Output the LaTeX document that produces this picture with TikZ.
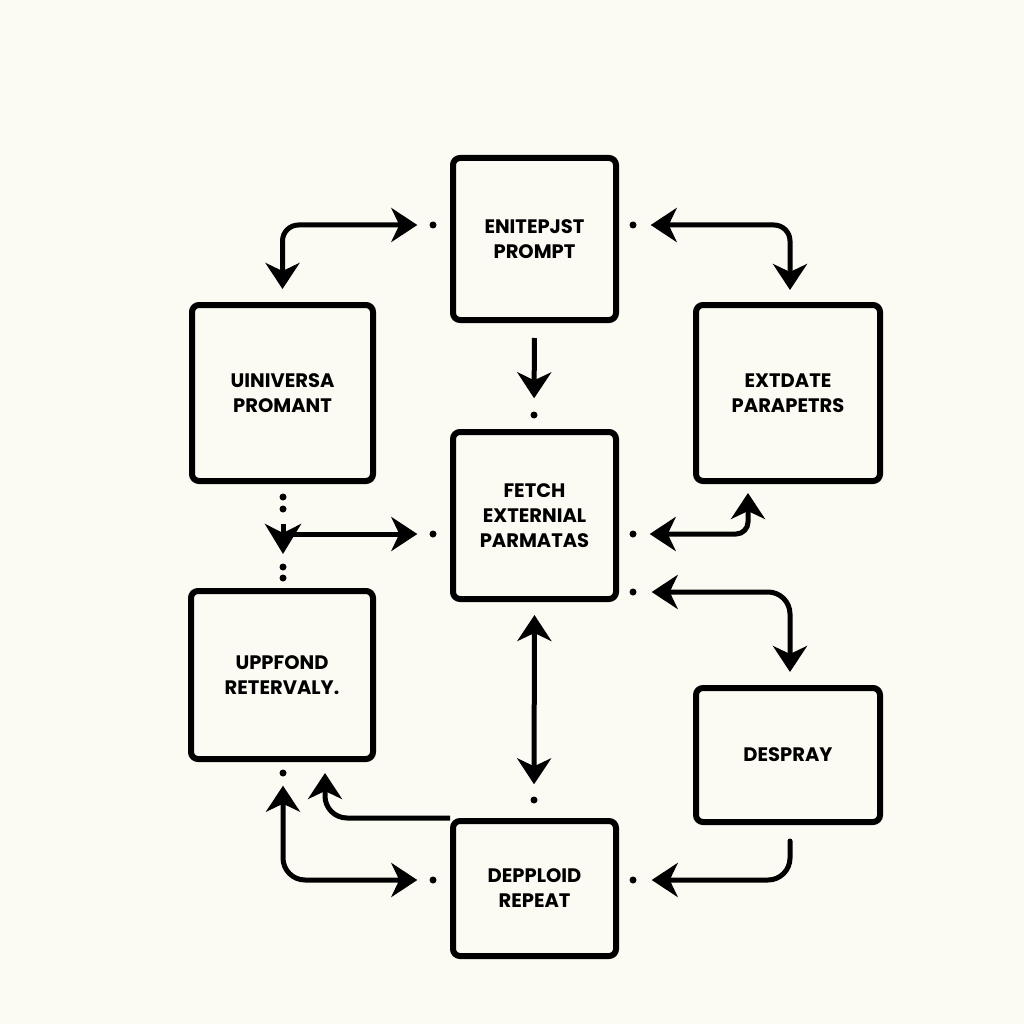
\documentclass[tikz,border=0pt]{standalone}
\usepackage{fontspec}
\setmainfont{Poppins}
\usetikzlibrary{arrows.meta}
\definecolor{bg}{HTML}{FBFAF3}
\tikzset{
  box/.style={draw=black, line width=6pt, rounded corners=7pt, inner sep=0pt,
    align=center, font=\fontsize{19.5}{25}\selectfont\bfseries},
  conn/.style={draw=black, line width=5pt, rounded corners=16pt},
  tipa/.tip={Stealth[length=26pt, width=34pt, inset=8pt]},
  dotn/.style={circle, fill=black, inner sep=0pt, minimum size=7pt},
}
\begin{document}
\begin{tikzpicture}[x=1pt, y=-1pt]
\fill[bg] (0,0) rectangle (1024,1024);
\useasboundingbox (0,0) rectangle (1024,1024);

% boxes
\node[box, minimum width=163pt, minimum height=162pt] (T) at (534.5,239) {ENITEPJST\\PROMPT};
\node[box, minimum width=181pt, minimum height=176pt] (UL) at (282.5,393) {UINIVERSA\\PROMANT};
\node[box, minimum width=184pt, minimum height=176pt] (UR) at (788,393) {EXTDATE\\PARAPETRS};
\node[box, minimum width=163pt, minimum height=167pt] (C) at (534.5,515.5) {FETCH\\EXTERNIAL\\PARMATAS};
\node[box, minimum width=182pt, minimum height=168pt] (LL) at (282,675) {UPPFOND\\RETERVALY.};
\node[box, minimum width=184pt, minimum height=134pt] (LR) at (788,755) {DESPRAY};
\node[box, minimum width=163pt, minimum height=135pt] (B) at (534.5,888.5) {DEPPLOID\\REPEAT};

% dots
\node[dotn] (d1) at (433,225) {};
\node[dotn] (d2) at (633,225) {};
\node[dotn] (d3) at (534,415) {};
\node[dotn] (d4) at (433,534) {};
\node[dotn] (d5) at (633,534) {};
\node[dotn] (d6) at (633,592) {};
\node[dotn] (d7) at (534,800) {};
\node[dotn] (d8a) at (283,773) {};
\node[dotn] (d8) at (433,880) {};
\node[dotn] (d10) at (633,880) {};
\node[dotn] (e1) at (283,497) {};
\node[dotn] (e2) at (283,509) {};
\node[dotn] (e3) at (283,567) {};
\node[dotn] (e4) at (283,578) {};

\coordinate (u5) at (748,481);
\coordinate (u9) at (325,759);
\coordinate (m4) at (283,534);

% connectors
\draw[conn, {tipa}-{tipa}, shorten <=13pt, shorten >=12pt] (UL.north) |- (d1);
\draw[conn, {tipa}-{tipa}, shorten <=14pt, shorten >=12pt] (d2) -| ([xshift=2pt]UR.north);
\draw[conn, -{tipa}, shorten <=15pt, shorten >=13pt] (T.south) -- (d3);
\draw[conn, -{tipa}, shorten >=12pt] (m4) -- (d4);
\draw[black, line width=5pt, -{Stealth[length=30pt, width=36pt, inset=9pt]}] (283,524) -- (283,554);
\draw[conn, {tipa}-{tipa}, shorten <=13pt, shorten >=12pt, rounded corners=12pt] (d5) -| (u5);
\draw[conn, {tipa}-{tipa}, shorten <=15pt, shorten >=13pt, rounded corners=22pt] (d6) -| ([xshift=2pt]LR.north);
\draw[conn, {tipa}-{tipa}, shorten <=13pt, shorten >=12pt] (C.south) -- (d7);
\draw[conn, {tipa}-{tipa}, shorten <=9pt, shorten >=12pt, rounded corners=22pt] (d8a) |- (d8);
\draw[conn, -{tipa}, shorten >=14pt, rounded corners=22pt] (B.north west) -| (u9);
\draw[conn, -{tipa}, line cap=round, shorten <=16pt, shorten >=15pt, rounded corners=22pt] ([xshift=2pt]LR.south) |- (d10);
\end{tikzpicture}
\end{document}
